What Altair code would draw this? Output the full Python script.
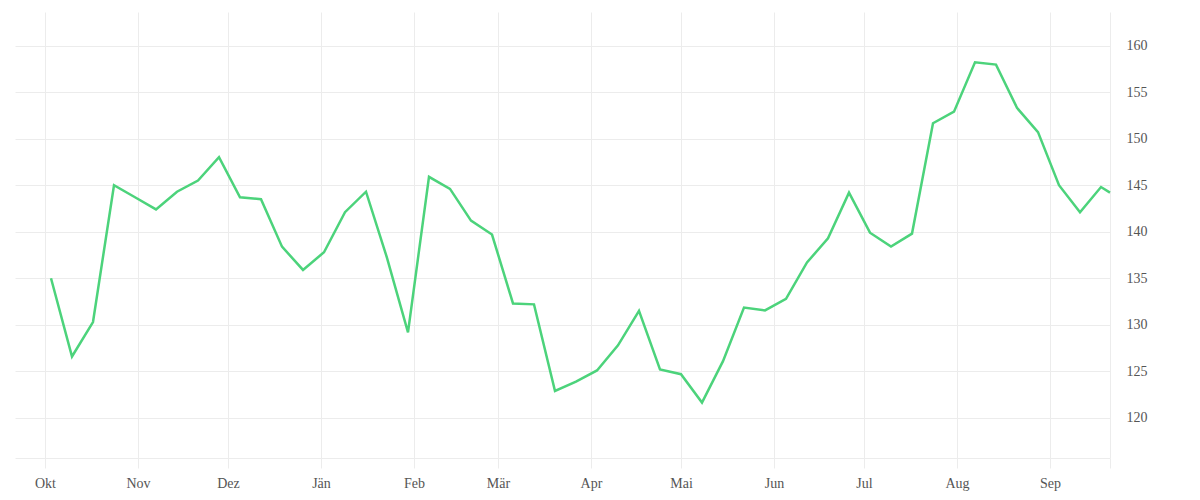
import json
import altair as alt
import pandas as pd

# weekly values (Mondays) plus the final partial point
dates = [
    "2022-10-03", "2022-10-10", "2022-10-17", "2022-10-24", "2022-10-31",
    "2022-11-07", "2022-11-14", "2022-11-21", "2022-11-28", "2022-12-05",
    "2022-12-12", "2022-12-19", "2022-12-26", "2023-01-02", "2023-01-09",
    "2023-01-16", "2023-01-23", "2023-01-30", "2023-02-06", "2023-02-13",
    "2023-02-20", "2023-02-27", "2023-03-06", "2023-03-13", "2023-03-20",
    "2023-03-27", "2023-04-03", "2023-04-10", "2023-04-17", "2023-04-24",
    "2023-05-01", "2023-05-08", "2023-05-15", "2023-05-22", "2023-05-29",
    "2023-06-05", "2023-06-12", "2023-06-19", "2023-06-26", "2023-07-03",
    "2023-07-10", "2023-07-17", "2023-07-24", "2023-07-31", "2023-08-07",
    "2023-08-14", "2023-08-21", "2023-08-28", "2023-09-04", "2023-09-11",
    "2023-09-18", "2023-09-21",
]
values = [
    135.0, 126.6, 130.3, 145.0, 143.7,
    142.4, 144.3, 145.5, 148.0, 143.7,
    143.5, 138.4, 135.9, 137.8, 142.1,
    144.3, 137.2, 129.2, 145.9, 144.6,
    141.2, 139.7, 132.3, 132.2, 122.9,
    123.9, 125.1, 127.8, 131.5, 125.2,
    124.7, 121.65, 126.1, 131.85, 131.55,
    132.8, 136.7, 139.3, 144.2, 139.9,
    138.4, 139.8, 151.65, 152.9, 158.2,
    157.95, 153.3, 150.7, 145.0, 142.1,
    144.8, 144.2,
]
month_names = ["Jän", "Feb", "Mär", "Apr", "Mai", "Jun",
               "Jul", "Aug", "Sep", "Okt", "Nov", "Dez"]
month_ticks = [(2022, 10), (2022, 11), (2022, 12), (2023, 1), (2023, 2), (2023, 3),
               (2023, 4), (2023, 5), (2023, 6), (2023, 7), (2023, 8), (2023, 9)]
y_ticks = [120, 125, 130, 135, 140, 145, 150, 155, 160]

df = pd.DataFrame({"date": dates, "value": values})

tick_values = [alt.DateTime(year=y, month=m, date=1, utc=True) for y, m in month_ticks]
tick_values.append(alt.DateTime(year=2023, month=9, date=21, utc=True))

label_expr = ("utcdate(datum.value) == 1 ? "
              + json.dumps(month_names, ensure_ascii=False)
              + "[utcmonth(datum.value)] : ''")

grid_color = "#ececec"

chart = alt.Chart(df).mark_line(color="#4cd37b", strokeWidth=2.5).encode(
    x=alt.X(
        "date:T",
        scale=alt.Scale(
            type="utc",
            domain=[alt.DateTime(year=2022, month=9, date=21, utc=True),
                    alt.DateTime(year=2023, month=9, date=21, utc=True)],
        ),
        axis=alt.Axis(
            title=None,
            values=tick_values,
            labelExpr=label_expr,
            labelOverlap=False,
            labelFlush=False,
            grid=True,
            gridColor=grid_color,
            domain=True,
            domainColor=grid_color,
            ticks=True,
            tickColor=grid_color,
            tickSize=10,
            labelPadding=8,
        ),
    ),
    y=alt.Y(
        "value:Q",
        scale=alt.Scale(domain=[115.7, 163.6], nice=False, zero=False),
        axis=alt.Axis(
            title=None,
            orient="right",
            values=y_ticks,
            grid=True,
            gridColor=grid_color,
            domain=False,
            ticks=False,
            tickSize=0,
            labelPadding=16,
            labelAlign="left",
            labelBaseline="middle",
        ),
    ),
).properties(
    width=1095,
    height=446,
    padding={"left": 7, "top": 4, "right": 5, "bottom": 5},
    background="white",
).configure_view(
    stroke="transparent"
).configure_axis(
    labelFont="Liberation Serif",
    labelFontSize=14,
    labelColor="#555555",
)

chart.save("out.html", embed_options={"renderer": "svg", "actions": False})
